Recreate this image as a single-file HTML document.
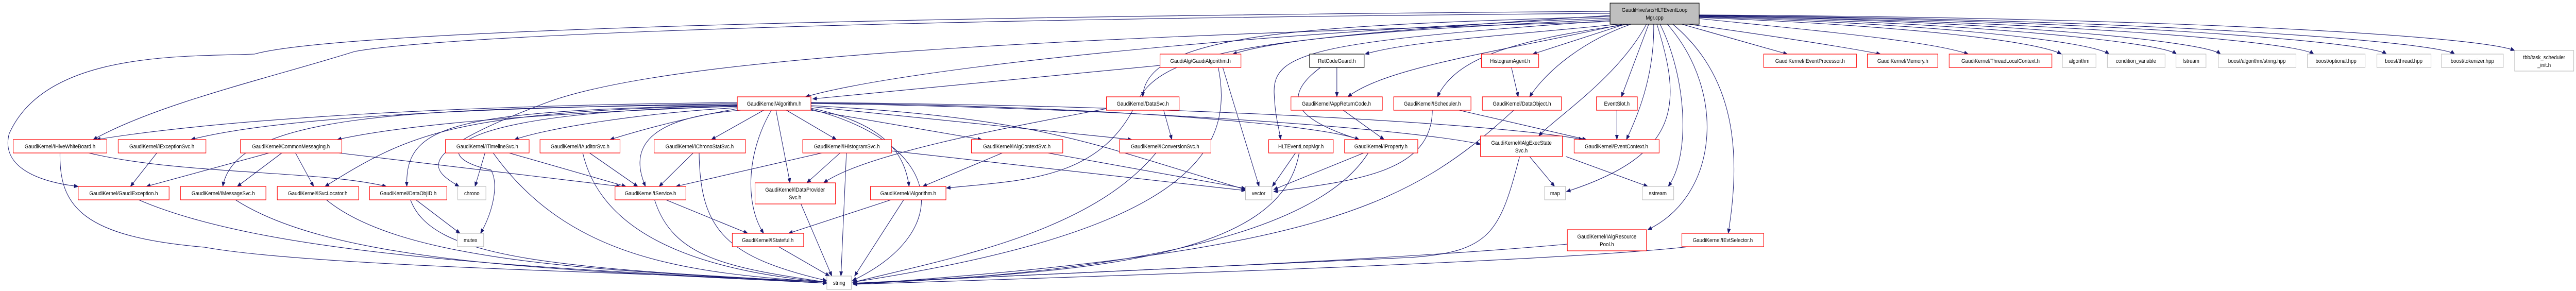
<!DOCTYPE html>
<html><head><meta charset="utf-8"><style>
html,body{margin:0;padding:0;background:#fff;width:100%;height:100%;overflow:hidden}
svg{display:block;width:100vw;height:100vh}
text{font-family:"Liberation Sans",sans-serif;font-size:11px;fill:#000}
.e{fill:none;stroke:#191970;stroke-width:1.1}
.r{fill:#fff;stroke:#ff0000;stroke-width:1.2}
.g{fill:#fff;stroke:#bfbfbf;stroke-width:1.2}
.b{fill:#fff;stroke:#000;stroke-width:1.2}
</style></head><body>
<svg viewBox="0 0 5667 565" preserveAspectRatio="none" xmlns="http://www.w3.org/2000/svg">
<defs><marker id="a" markerWidth="10" markerHeight="8" refX="9" refY="4" orient="auto" markerUnits="userSpaceOnUse"><path d="M0,0 L10,4 L0,8 z" fill="#191970"/></marker></defs>
<g class="e" marker-end="url(#a)">
<path d="M3542,22 C1500,35 700,70 560,105 C400,110 100,100 20,260 C0,330 100,355 172,362"/>
<path d="M3542,26 C1500,40 900,80 780,100 C600,150 350,200 205,271"/>
<path d="M3542,35 C2800,60 2000,130 1772,188"/>
<path d="M3542,38 C2700,70 2550,110 2500,200 C2420,350 2250,350 2082,365"/>
<path d="M3542,32 C2900,50 2520,60 2514,188"/>
<path d="M3542,30 C3000,60 2800,80 2712,105"/>
<path d="M3560,47 C3300,70 3100,80 3003,105"/>
<path d="M3570,47 C3300,100 3050,130 2965,188"/>
<path d="M3585,47 C3300,80 3200,120 3162,188"/>
<path d="M3575,47 L3372,105"/>
<path d="M3588,47 C3480,80 3400,140 3365,188"/>
<path d="M3622,47 C3560,150 3420,230 3385,264"/>
<path d="M3627,47 L3567,188"/>
<path d="M3638,47 C3640,150 3600,230 3578,271"/>
<path d="M3645,47 C3700,200 3700,300 3446,372"/>
<path d="M3652,47 C3710,150 3720,300 3670,362"/>
<path d="M3668,47 C3800,180 3780,380 3625,446"/>
<path d="M3680,47 C3820,150 3830,300 3802,453"/>
<path d="M3700,47 L3932,105"/>
<path d="M3715,47 C3900,70 4050,90 4137,105"/>
<path d="M3737,36 C4000,60 4250,80 4330,105"/>
<path d="M3737,34 C4200,50 4480,80 4535,105"/>
<path d="M3737,33 C4250,45 4600,80 4640,105"/>
<path d="M3737,32 C4300,42 4750,80 4788,105"/>
<path d="M3737,31 C4400,40 4850,80 4885,105"/>
<path d="M3737,31 C4500,40 5050,80 5090,105"/>
<path d="M3737,30 C4600,38 5210,80 5250,105"/>
<path d="M3737,30 C4700,36 5360,80 5400,105"/>
<path d="M3737,29 C4800,34 5450,70 5532,98"/>
<path d="M3542,40 C2900,80 2800,100 2803,180 C2805,230 2815,250 2817,271"/>
<path d="M3542,42 C2500,70 1500,100 1200,200 C900,300 950,330 1010,362"/>
<path d="M1622,199 C1000,205 500,230 212,271"/>
<path d="M1622,201 C1000,210 600,230 420,271"/>
<path d="M1622,203 C900,210 520,220 490,362"/>
<path d="M1622,206 C1200,220 900,240 742,271"/>
<path d="M1622,205 C1000,215 900,260 715,362"/>
<path d="M1622,204 C1000,215 890,240 895,362"/>
<path d="M1622,207 C1000,215 920,300 1080,330 C1100,360 1080,420 1057,453"/>
<path d="M1622,209 C1400,220 1200,250 1132,271"/>
<path d="M1622,211 C1500,230 1400,255 1342,271"/>
<path d="M1630,214 C1400,230 1390,300 1420,362"/>
<path d="M1680,214 L1565,271"/>
<path d="M1707,214 L1738,355"/>
<path d="M1697,214 C1640,300 1640,400 1680,453"/>
<path d="M1730,214 L1840,271"/>
<path d="M1784,210 C1950,240 1990,300 2000,362"/>
<path d="M1784,212 C2080,280 2100,450 1875,545"/>
<path d="M1784,214 L2160,271"/>
<path d="M1784,207 L2490,271"/>
<path d="M1784,205 C2300,230 2400,280 2740,368"/>
<path d="M1784,200 C2400,205 2900,240 2990,271"/>
<path d="M1784,201 C2500,210 3100,250 3257,280"/>
<path d="M1784,199 C2600,205 3300,240 3482,271"/>
<path d="M2552,127 L1788,192"/>
<path d="M2690,131 L2770,362"/>
<path d="M2680,131 C2720,300 2600,450 1875,548"/>
<path d="M2560,214 L2578,271"/>
<path d="M2440,210 C2200,250 1900,300 1812,355"/>
<path d="M1525,297 L1450,362"/>
<path d="M1538,297 C1540,450 1600,500 1819,545"/>
<path d="M1808,297 L1487,362"/>
<path d="M1848,297 L1775,355"/>
<path d="M1862,297 L1850,536"/>
<path d="M1961,293 L2740,370"/>
<path d="M2205,297 L2030,362"/>
<path d="M2305,297 L2740,366"/>
<path d="M2543,297 C2400,450 2100,500 1877,548"/>
<path d="M1465,388 L1645,453"/>
<path d="M1440,388 C1480,500 1600,520 1819,548"/>
<path d="M1762,396 L1830,536"/>
<path d="M1960,388 L1735,453"/>
<path d="M1988,388 L1880,536"/>
<path d="M1713,479 L1825,536"/>
<path d="M132,297 C130,400 180,460 450,480 C700,520 1500,530 1819,548"/>
<path d="M195,297 C400,340 700,330 850,362"/>
<path d="M345,297 L287,362"/>
<path d="M592,297 L322,362"/>
<path d="M620,297 L522,362"/>
<path d="M650,297 L690,362"/>
<path d="M745,297 L1365,362"/>
<path d="M305,388 C600,500 1200,520 1819,550"/>
<path d="M518,388 C750,520 1300,525 1819,550"/>
<path d="M718,388 C900,520 1400,525 1819,550"/>
<path d="M903,388 C950,500 1200,520 1819,548"/>
<path d="M915,388 L1012,453"/>
<path d="M1067,297 L1045,362"/>
<path d="M1085,297 C1250,500 1500,530 1819,548"/>
<path d="M1120,297 L1377,362"/>
<path d="M1297,297 L1403,362"/>
<path d="M1282,297 C1330,480 1600,530 1819,548"/>
<path d="M2850,297 L2799,362"/>
<path d="M2858,297 C2820,500 2400,530 1877,550"/>
<path d="M3000,297 L2802,368"/>
<path d="M3010,297 C2900,450 2500,530 1877,551"/>
<path d="M2955,214 L3045,271"/>
<path d="M2941,131 L2941,188"/>
<path d="M2905,131 C2800,200 2880,240 2990,271"/>
<path d="M3151,214 C3150,330 3000,350 2802,372"/>
<path d="M3210,214 L3490,271"/>
<path d="M3325,131 L3340,188"/>
<path d="M3330,214 C3100,400 2900,490 1877,552"/>
<path d="M3557,214 L3557,271"/>
<path d="M3365,304 L3420,362"/>
<path d="M3445,304 L3625,362"/>
<path d="M3343,304 C3300,450 3280,490 3100,500 L1877,550"/>
<path d="M3448,474 C3000,510 2200,535 1877,550"/>
<path d="M3715,479 C3400,510 2300,540 1877,552"/>
</g>
<g text-anchor="middle">
<rect class="b" x="3542" y="6" width="196" height="41" style="fill:#bfbfbf"/>
<text x="3640" y="23">GaudiHive/src/HLTEventLoop</text><text x="3640" y="38">Mgr.cpp</text>
<rect class="b" x="2881" y="105" width="120" height="26"/><text x="2941" y="122">RetCodeGuard.h</text>
<rect class="r" x="2552" y="105" width="178" height="26"/><text x="2641" y="122">GaudiAlg/GaudiAlgorithm.h</text>
<rect class="r" x="3259" y="105" width="126" height="26"/><text x="3322" y="122">HistogramAgent.h</text>
<rect class="r" x="3880" y="105" width="204" height="26"/><text x="3982" y="122">GaudiKernel/IEventProcessor.h</text>
<rect class="r" x="4108" y="105" width="155" height="26"/><text x="4186" y="122">GaudiKernel/Memory.h</text>
<rect class="r" x="4288" y="105" width="226" height="26"/><text x="4401" y="122">GaudiKernel/ThreadLocalContext.h</text>
<rect class="g" x="4537" y="105" width="74" height="26"/><text x="4574" y="122">algorithm</text>
<rect class="g" x="4636" y="105" width="127" height="26"/><text x="4699" y="122">condition_variable</text>
<rect class="g" x="4787" y="105" width="66" height="26"/><text x="4820" y="122">fstream</text>
<rect class="g" x="4880" y="105" width="171" height="26"/><text x="4965" y="122">boost/algorithm/string.hpp</text>
<rect class="g" x="5076" y="105" width="127" height="26"/><text x="5139" y="122">boost/optional.hpp</text>
<rect class="g" x="5229" y="105" width="119" height="26"/><text x="5288" y="122">boost/thread.hpp</text>
<rect class="g" x="5371" y="105" width="136" height="26"/><text x="5439" y="122">boost/tokenizer.hpp</text>
<rect class="g" x="5532" y="98" width="130" height="40"/><text x="5597" y="115">tbb/task_scheduler</text><text x="5597" y="130">_init.h</text>
<rect class="r" x="1622" y="188" width="162" height="26"/><text x="1703" y="205">GaudiKernel/Algorithm.h</text>
<rect class="r" x="2434" y="188" width="160" height="26"/><text x="2514" y="205">GaudiKernel/DataSvc.h</text>
<rect class="r" x="2840" y="188" width="201" height="26"/><text x="2940" y="205">GaudiKernel/AppReturnCode.h</text>
<rect class="r" x="3066" y="188" width="170" height="26"/><text x="3151" y="205">GaudiKernel/IScheduler.h</text>
<rect class="r" x="3261" y="188" width="174" height="26"/><text x="3348" y="205">GaudiKernel/DataObject.h</text>
<rect class="r" x="3512" y="188" width="90" height="26"/><text x="3557" y="205">EventSlot.h</text>
<rect class="r" x="29" y="271" width="206" height="26"/><text x="132" y="288">GaudiKernel/IHiveWhiteBoard.h</text>
<rect class="r" x="260" y="271" width="193" height="26"/><text x="356" y="288">GaudiKernel/IExceptionSvc.h</text>
<rect class="r" x="529" y="271" width="223" height="26"/><text x="640" y="288">GaudiKernel/CommonMessaging.h</text>
<rect class="r" x="980" y="271" width="184" height="26"/><text x="1072" y="288">GaudiKernel/ITimelineSvc.h</text>
<rect class="r" x="1188" y="271" width="176" height="26"/><text x="1276" y="288">GaudiKernel/IAuditorSvc.h</text>
<rect class="r" x="1439" y="271" width="201" height="26"/><text x="1539" y="288">GaudiKernel/IChronoStatSvc.h</text>
<rect class="r" x="1766" y="271" width="195" height="26"/><text x="1863" y="288">GaudiKernel/IHistogramSvc.h</text>
<rect class="r" x="2137" y="271" width="201" height="26"/><text x="2237" y="288">GaudiKernel/IAlgContextSvc.h</text>
<rect class="r" x="2463" y="271" width="201" height="26"/><text x="2563" y="288">GaudiKernel/IConversionSvc.h</text>
<rect class="r" x="2791" y="271" width="142" height="26"/><text x="2862" y="288">HLTEventLoopMgr.h</text>
<rect class="r" x="2958" y="271" width="161" height="26"/><text x="3038" y="288">GaudiKernel/IProperty.h</text>
<rect class="r" x="3257" y="264" width="180" height="40"/><text x="3347" y="281">GaudiKernel/IAlgExecState</text><text x="3347" y="296">Svc.h</text>
<rect class="r" x="3463" y="271" width="187" height="26"/><text x="3556" y="288">GaudiKernel/EventContext.h</text>
<rect class="r" x="172" y="362" width="200" height="26"/><text x="272" y="379">GaudiKernel/GaudiException.h</text>
<rect class="r" x="397" y="362" width="188" height="26"/><text x="491" y="379">GaudiKernel/IMessageSvc.h</text>
<rect class="r" x="610" y="362" width="179" height="26"/><text x="699" y="379">GaudiKernel/ISvcLocator.h</text>
<rect class="r" x="813" y="362" width="170" height="26"/><text x="898" y="379">GaudiKernel/DataObjID.h</text>
<rect class="g" x="1007" y="362" width="62" height="26"/><text x="1038" y="379">chrono</text>
<rect class="r" x="1353" y="362" width="156" height="26"/><text x="1431" y="379">GaudiKernel/IService.h</text>
<rect class="r" x="1661" y="355" width="177" height="41"/><text x="1749" y="372">GaudiKernel/IDataProvider</text><text x="1749" y="387">Svc.h</text>
<rect class="r" x="1915" y="362" width="166" height="26"/><text x="1998" y="379">GaudiKernel/IAlgorithm.h</text>
<rect class="g" x="2740" y="362" width="58" height="26"/><text x="2769" y="379">vector</text>
<rect class="g" x="3398" y="362" width="46" height="26"/><text x="3421" y="379">map</text>
<rect class="g" x="3613" y="362" width="69" height="26"/><text x="3647" y="379">sstream</text>
<rect class="g" x="1006" y="453" width="58" height="26"/><text x="1035" y="470">mutex</text>
<rect class="r" x="1611" y="453" width="157" height="26"/><text x="1689" y="470">GaudiKernel/IStateful.h</text>
<rect class="r" x="3448" y="446" width="174" height="41"/><text x="3535" y="463">GaudiKernel/IAlgResource</text><text x="3535" y="478">Pool.h</text>
<rect class="r" x="3700" y="453" width="180" height="26"/><text x="3790" y="470">GaudiKernel/IEvtSelector.h</text>
<rect class="g" x="1819" y="536" width="54" height="26"/><text x="1846" y="553">string</text>
</g>
</svg>
</body></html>
